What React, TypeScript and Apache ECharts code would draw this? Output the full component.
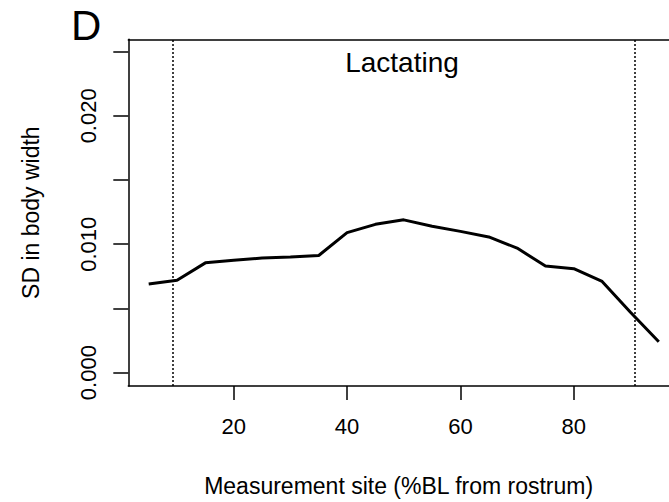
import React, { useEffect, useRef } from "react";
import * as echarts from "echarts";

const sites = [5, 10, 15, 20, 25, 30, 35, 40, 45, 50, 55, 60, 65, 70, 75, 80, 85, 90, 95];
const sdWidth = [
  0.0069, 0.0072, 0.00855, 0.00875, 0.00893, 0.009, 0.00912, 0.0109, 0.01155, 0.0119,
  0.0114, 0.011, 0.01057, 0.0097, 0.0083, 0.0081, 0.0071, 0.0047, 0.0024,
];
const xTicks = [20, 40, 60, 80];
const yTicks = [0, 0.005, 0.01, 0.015, 0.02, 0.025];
const yLabels = [0, 0.01, 0.02];
const refLines = [9.3, 90.7];

const FONT = "'Liberation Sans', Arial, sans-serif";

export default function App() {
  const ref = useRef<HTMLDivElement>(null);
  useEffect(() => {
    document.body.style.margin = "0";
    const chart = echarts.init(ref.current!, null, { renderer: "svg" });
    chart.setOption({
      animation: false,
      backgroundColor: "#ffffff",
      grid: { left: 128.3, top: 39.3, right: 0, bottom: 115.3, containLabel: false },
      xAxis: [
        {
          type: "value",
          min: 1.4,
          max: 96.8,
          position: "bottom",
          name: "Measurement site (%BL from rostrum)",
          nameLocation: "middle",
          nameGap: 88,
          nameTextStyle: { color: "#000", fontSize: 23, fontFamily: FONT },
          axisLine: { show: true, onZero: false, lineStyle: { color: "#000", width: 1.5 } },
          axisTick: { show: true, inside: false, length: 14, customValues: xTicks, lineStyle: { color: "#000", width: 1.5 } },
          axisLabel: { show: true, margin: 29, customValues: xTicks, color: "#000", fontSize: 22, fontFamily: FONT },
          splitLine: { show: false },
        },
        {
          type: "value",
          min: 1.4,
          max: 96.8,
          position: "top",
          axisLine: { show: true, onZero: false, lineStyle: { color: "#000", width: 1.5 } },
          axisTick: { show: false },
          axisLabel: { show: false },
          splitLine: { show: false },
        },
      ],
      yAxis: {
        type: "value",
        min: -0.00104,
        max: 0.02596,
        name: "SD in body width",
        nameLocation: "middle",
        nameRotate: 90,
        nameGap: 86,
        nameTextStyle: { color: "#000", fontSize: 23, fontFamily: FONT },
        axisLine: { show: true, onZero: false, lineStyle: { color: "#000", width: 1.5 } },
        axisTick: { show: true, inside: false, length: 15, customValues: yTicks, lineStyle: { color: "#000", width: 1.5 } },
        axisLabel: {
          show: true,
          rotate: 90,
          margin: 29,
          customValues: yLabels,
          formatter: (v: number) => v.toFixed(3),
          color: "#000",
          fontSize: 22,
          fontFamily: FONT,
        },
        splitLine: { show: false },
      },
      graphic: [
        {
          type: "text",
          left: 71,
          top: 4,
          style: { text: "D", fontSize: 42, fontFamily: FONT, fill: "#000" },
        },
        {
          type: "text",
          x: 402,
          y: 48,
          style: { text: "Lactating", fontSize: 28, fontFamily: FONT, fill: "#000", textAlign: "center", textVerticalAlign: "top" },
        },
      ],
      series: [
        {
          type: "line",
          xAxisIndex: 0,
          data: sites.map((s, i) => [s, sdWidth[i]]),
          showSymbol: false,
          lineStyle: { color: "#000", width: 3 },
          markLine: {
            silent: true,
            symbol: ["none", "none"],
            label: { show: false },
            lineStyle: { color: "#000", width: 1.5, type: [2, 2] },
            data: refLines.map((x) => ({ xAxis: x })),
          },
        },
      ],
    });
    return () => chart.dispose();
  }, []);
  return <div ref={ref} style={{ width: 669, height: 502 }} />;
}
